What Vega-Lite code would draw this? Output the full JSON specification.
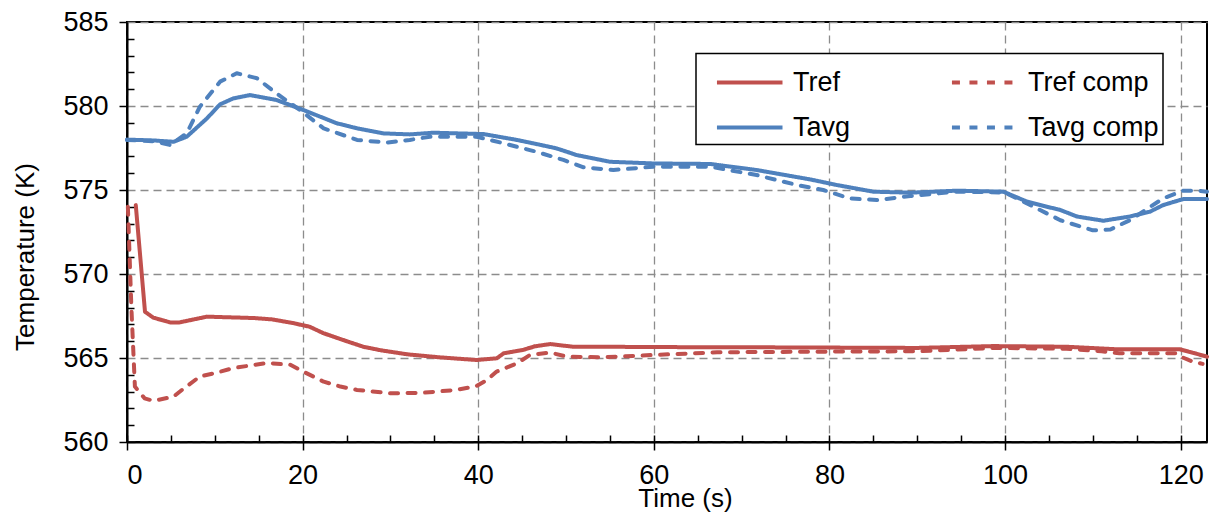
{
  "$schema": "https://vega.github.io/schema/vega-lite/v6.json",
  "width": 1080,
  "height": 420,
  "autosize": {"type": "none"},
  "padding": {"left": 127, "top": 22, "right": 4, "bottom": 75},
  "background": "white",
  "config": {
    "font": "Liberation Sans",
    "view": {"stroke": "black", "strokeWidth": 2},
    "axis": {"labelFont": "Liberation Sans", "titleFont": "Liberation Sans", "labelColor": "black", "titleColor": "black", "titleFontWeight": "normal"},
    "legend": {"strokeWidth": 1.5}
  },
  "data": {"values": [
    {"t": 1.0, "T": 574.1, "s": "Tref"},
    {"t": 2.05, "T": 567.75, "s": "Tref"},
    {"t": 3, "T": 567.4, "s": "Tref"},
    {"t": 4.9, "T": 567.12, "s": "Tref"},
    {"t": 6, "T": 567.12, "s": "Tref"},
    {"t": 9.1, "T": 567.46, "s": "Tref"},
    {"t": 14.4, "T": 567.38, "s": "Tref"},
    {"t": 16.5, "T": 567.3, "s": "Tref"},
    {"t": 18.9, "T": 567.08, "s": "Tref"},
    {"t": 20.8, "T": 566.86, "s": "Tref"},
    {"t": 22.4, "T": 566.47, "s": "Tref"},
    {"t": 25.4, "T": 565.93, "s": "Tref"},
    {"t": 26.9, "T": 565.67, "s": "Tref"},
    {"t": 29, "T": 565.45, "s": "Tref"},
    {"t": 31.9, "T": 565.22, "s": "Tref"},
    {"t": 35.6, "T": 565.04, "s": "Tref"},
    {"t": 39.8, "T": 564.88, "s": "Tref"},
    {"t": 42.1, "T": 564.98, "s": "Tref"},
    {"t": 42.9, "T": 565.28, "s": "Tref"},
    {"t": 45.1, "T": 565.48, "s": "Tref"},
    {"t": 46.5, "T": 565.7, "s": "Tref"},
    {"t": 48.2, "T": 565.83, "s": "Tref"},
    {"t": 50.8, "T": 565.67, "s": "Tref"},
    {"t": 54.6, "T": 565.67, "s": "Tref"},
    {"t": 60, "T": 565.65, "s": "Tref"},
    {"t": 70, "T": 565.64, "s": "Tref"},
    {"t": 80, "T": 565.62, "s": "Tref"},
    {"t": 90, "T": 565.6, "s": "Tref"},
    {"t": 98.7, "T": 565.71, "s": "Tref"},
    {"t": 107, "T": 565.67, "s": "Tref"},
    {"t": 112.7, "T": 565.52, "s": "Tref"},
    {"t": 119.9, "T": 565.52, "s": "Tref"},
    {"t": 123, "T": 565.08, "s": "Tref"},

    {"t": 0.1, "T": 574.0, "s": "Tref comp"},
    {"t": 0.5, "T": 568.0, "s": "Tref comp"},
    {"t": 0.9, "T": 563.3, "s": "Tref comp"},
    {"t": 2, "T": 562.6, "s": "Tref comp"},
    {"t": 3, "T": 562.45, "s": "Tref comp"},
    {"t": 5.3, "T": 562.7, "s": "Tref comp"},
    {"t": 6.5, "T": 563.2, "s": "Tref comp"},
    {"t": 8.3, "T": 563.9, "s": "Tref comp"},
    {"t": 10, "T": 564.1, "s": "Tref comp"},
    {"t": 12.1, "T": 564.4, "s": "Tref comp"},
    {"t": 15.9, "T": 564.7, "s": "Tref comp"},
    {"t": 18.6, "T": 564.6, "s": "Tref comp"},
    {"t": 19.7, "T": 564.29, "s": "Tref comp"},
    {"t": 22.4, "T": 563.59, "s": "Tref comp"},
    {"t": 24.3, "T": 563.3, "s": "Tref comp"},
    {"t": 26.2, "T": 563.1, "s": "Tref comp"},
    {"t": 30, "T": 562.9, "s": "Tref comp"},
    {"t": 33.7, "T": 562.93, "s": "Tref comp"},
    {"t": 37.5, "T": 563.1, "s": "Tref comp"},
    {"t": 39.8, "T": 563.33, "s": "Tref comp"},
    {"t": 41, "T": 563.69, "s": "Tref comp"},
    {"t": 42.1, "T": 564.19, "s": "Tref comp"},
    {"t": 44.4, "T": 564.68, "s": "Tref comp"},
    {"t": 45.9, "T": 565.18, "s": "Tref comp"},
    {"t": 48.2, "T": 565.32, "s": "Tref comp"},
    {"t": 50.1, "T": 565.08, "s": "Tref comp"},
    {"t": 53.9, "T": 565.04, "s": "Tref comp"},
    {"t": 60, "T": 565.18, "s": "Tref comp"},
    {"t": 67.2, "T": 565.34, "s": "Tref comp"},
    {"t": 80.4, "T": 565.38, "s": "Tref comp"},
    {"t": 90, "T": 565.4, "s": "Tref comp"},
    {"t": 98.7, "T": 565.6, "s": "Tref comp"},
    {"t": 107, "T": 565.55, "s": "Tref comp"},
    {"t": 111, "T": 565.4, "s": "Tref comp"},
    {"t": 113, "T": 565.28, "s": "Tref comp"},
    {"t": 119.5, "T": 565.28, "s": "Tref comp"},
    {"t": 120, "T": 565.08, "s": "Tref comp"},
    {"t": 121.4, "T": 564.78, "s": "Tref comp"},
    {"t": 122.5, "T": 564.65, "s": "Tref comp"},

    {"t": 0, "T": 578.0, "s": "Tavg"},
    {"t": 3, "T": 577.95, "s": "Tavg"},
    {"t": 5.3, "T": 577.87, "s": "Tavg"},
    {"t": 6.8, "T": 578.17, "s": "Tavg"},
    {"t": 9.1, "T": 579.26, "s": "Tavg"},
    {"t": 10.6, "T": 580.1, "s": "Tavg"},
    {"t": 12.1, "T": 580.45, "s": "Tavg"},
    {"t": 14, "T": 580.65, "s": "Tavg"},
    {"t": 17, "T": 580.36, "s": "Tavg"},
    {"t": 20.1, "T": 579.76, "s": "Tavg"},
    {"t": 23.9, "T": 578.97, "s": "Tavg"},
    {"t": 26.2, "T": 578.67, "s": "Tavg"},
    {"t": 29.2, "T": 578.37, "s": "Tavg"},
    {"t": 32.2, "T": 578.31, "s": "Tavg"},
    {"t": 34.9, "T": 578.41, "s": "Tavg"},
    {"t": 40.6, "T": 578.33, "s": "Tavg"},
    {"t": 44.4, "T": 577.98, "s": "Tavg"},
    {"t": 46.6, "T": 577.74, "s": "Tavg"},
    {"t": 48.9, "T": 577.48, "s": "Tavg"},
    {"t": 51.2, "T": 577.08, "s": "Tavg"},
    {"t": 55, "T": 576.68, "s": "Tavg"},
    {"t": 60, "T": 576.58, "s": "Tavg"},
    {"t": 66.4, "T": 576.55, "s": "Tavg"},
    {"t": 71.7, "T": 576.19, "s": "Tavg"},
    {"t": 77.8, "T": 575.63, "s": "Tavg"},
    {"t": 80.8, "T": 575.3, "s": "Tavg"},
    {"t": 85, "T": 574.9, "s": "Tavg"},
    {"t": 89.2, "T": 574.84, "s": "Tavg"},
    {"t": 94.5, "T": 574.96, "s": "Tavg"},
    {"t": 99.8, "T": 574.9, "s": "Tavg"},
    {"t": 102.5, "T": 574.31, "s": "Tavg"},
    {"t": 104.4, "T": 574.05, "s": "Tavg"},
    {"t": 106.3, "T": 573.81, "s": "Tavg"},
    {"t": 108.2, "T": 573.42, "s": "Tavg"},
    {"t": 111.2, "T": 573.17, "s": "Tavg"},
    {"t": 114.2, "T": 573.42, "s": "Tavg"},
    {"t": 116.5, "T": 573.71, "s": "Tavg"},
    {"t": 118, "T": 574.1, "s": "Tavg"},
    {"t": 120.3, "T": 574.46, "s": "Tavg"},
    {"t": 123, "T": 574.46, "s": "Tavg"},

    {"t": 0, "T": 577.98, "s": "Tavg comp"},
    {"t": 3, "T": 577.9, "s": "Tavg comp"},
    {"t": 4.9, "T": 577.68, "s": "Tavg comp"},
    {"t": 6.8, "T": 578.37, "s": "Tavg comp"},
    {"t": 8.3, "T": 579.96, "s": "Tavg comp"},
    {"t": 10.6, "T": 581.45, "s": "Tavg comp"},
    {"t": 12.5, "T": 581.95, "s": "Tavg comp"},
    {"t": 14.8, "T": 581.65, "s": "Tavg comp"},
    {"t": 17, "T": 580.76, "s": "Tavg comp"},
    {"t": 19.7, "T": 579.76, "s": "Tavg comp"},
    {"t": 22.4, "T": 578.67, "s": "Tavg comp"},
    {"t": 26.2, "T": 577.98, "s": "Tavg comp"},
    {"t": 29.6, "T": 577.82, "s": "Tavg comp"},
    {"t": 32.2, "T": 577.98, "s": "Tavg comp"},
    {"t": 34.5, "T": 578.17, "s": "Tavg comp"},
    {"t": 39.8, "T": 578.17, "s": "Tavg comp"},
    {"t": 42.9, "T": 577.78, "s": "Tavg comp"},
    {"t": 46.6, "T": 577.28, "s": "Tavg comp"},
    {"t": 49.7, "T": 576.79, "s": "Tavg comp"},
    {"t": 52, "T": 576.35, "s": "Tavg comp"},
    {"t": 55.4, "T": 576.19, "s": "Tavg comp"},
    {"t": 60, "T": 576.39, "s": "Tavg comp"},
    {"t": 66.4, "T": 576.39, "s": "Tavg comp"},
    {"t": 71.7, "T": 575.89, "s": "Tavg comp"},
    {"t": 76.3, "T": 575.3, "s": "Tavg comp"},
    {"t": 79.3, "T": 575.0, "s": "Tavg comp"},
    {"t": 82.3, "T": 574.5, "s": "Tavg comp"},
    {"t": 85.4, "T": 574.4, "s": "Tavg comp"},
    {"t": 89.2, "T": 574.64, "s": "Tavg comp"},
    {"t": 94.5, "T": 574.9, "s": "Tavg comp"},
    {"t": 100, "T": 574.85, "s": "Tavg comp"},
    {"t": 102.5, "T": 574.2, "s": "Tavg comp"},
    {"t": 106.3, "T": 573.2, "s": "Tavg comp"},
    {"t": 110, "T": 572.6, "s": "Tavg comp"},
    {"t": 112, "T": 572.65, "s": "Tavg comp"},
    {"t": 114.2, "T": 573.2, "s": "Tavg comp"},
    {"t": 118, "T": 574.5, "s": "Tavg comp"},
    {"t": 120.3, "T": 574.96, "s": "Tavg comp"},
    {"t": 122, "T": 574.96, "s": "Tavg comp"},
    {"t": 123, "T": 574.9, "s": "Tavg comp"}
  ]},
  "resolve": {"axis": {"x": "independent", "y": "independent"}},
  "layer": [
    {
      "mark": {"type": "point", "opacity": 0},
      "encoding": {
        "x": {"field": "t", "type": "quantitative", "scale": {"domain": [0, 123], "nice": false},
          "axis": {"orient": "bottom", "values": [0,5,10,15,20,25,30,35,40,45,50,55,60,65,70,75,80,85,90,95,100,105,110,115,120], "labels": false, "domain": false, "grid": false, "ticks": true, "tickSize": -7, "tickColor": "black", "tickWidth": 1.5, "title": null}},
        "y": {"field": "T", "type": "quantitative", "scale": {"domain": [560, 585], "nice": false, "zero": false},
          "axis": {"orient": "left", "values": [561,562,563,564,566,567,568,569,571,572,573,574,576,577,578,579,581,582,583,584], "labels": false, "domain": false, "grid": false, "ticks": true, "tickSize": -7, "tickColor": "black", "tickWidth": 1.5, "title": null}}
      }
    },
    {
      "mark": {"type": "line", "strokeWidth": 4, "strokeCap": "round", "strokeJoin": "round"},
      "encoding": {
        "x": {"field": "t", "type": "quantitative", "scale": {"domain": [0, 123], "nice": false},
          "axis": {"orient": "bottom", "values": [0,20,40,60,80,100,120], "grid": true, "gridColor": "#8c8c8c", "gridDash": [8,5], "gridWidth": 1.3, "domainColor": "black", "domainWidth": 2, "tickColor": "black", "tickSize": 8, "tickWidth": 1.5, "labelFontSize": 27, "labelPadding": 12, "title": "Time (s)", "titleFontSize": 26, "titleX": 558, "titleY": 64, "titleBaseline": "alphabetic"}},
        "y": {"field": "T", "type": "quantitative", "scale": {"domain": [560, 585], "nice": false, "zero": false},
          "axis": {"orient": "left", "values": [560,565,570,575,580,585], "grid": true, "gridColor": "#8c8c8c", "gridDash": [8,5], "gridWidth": 1.3, "domainColor": "black", "domainWidth": 2, "tickColor": "black", "tickSize": 8, "tickWidth": 1.5, "labelFontSize": 27, "labelPadding": 11, "title": "Temperature (K)", "titleFontSize": 26, "titleX": -94, "titleY": 234.5, "titleBaseline": "alphabetic"}},
        "color": {"field": "s", "type": "nominal",
          "scale": {"domain": ["Tref", "Tavg", "Tref comp", "Tavg comp"], "range": ["#C0504D", "#4F81BD", "#C0504D", "#4F81BD"]},
          "legend": {"orient": "none", "legendX": 569, "legendY": 31.5, "columns": 2, "title": null, "symbolType": "M-0.35,0H2.5", "symbolSize": 2116, "symbolStrokeWidth": 4, "symbolFillColor": "transparent", "labelFontSize": 27, "labelFont": "Liberation Sans", "labelColor": "black", "labelOffset": 43, "columnPadding": 84, "rowPadding": 7, "padding": 4, "strokeColor": "black", "fillColor": "white"}},
        "strokeDash": {"field": "s", "type": "nominal",
          "scale": {"domain": ["Tref", "Tavg", "Tref comp", "Tavg comp"], "range": [[1, 0], [1, 0], [8, 9.5], [8, 9.5]]},
          "legend": {"orient": "none", "legendX": 569, "legendY": 31.5, "columns": 2, "title": null, "symbolType": "M-0.35,0H2.5", "symbolSize": 2116, "symbolStrokeWidth": 4, "symbolFillColor": "transparent", "labelFontSize": 27, "labelFont": "Liberation Sans", "labelColor": "black", "labelOffset": 43, "columnPadding": 84, "rowPadding": 7, "padding": 4, "strokeColor": "black", "fillColor": "white"}}
      }
    }
  ]
}
